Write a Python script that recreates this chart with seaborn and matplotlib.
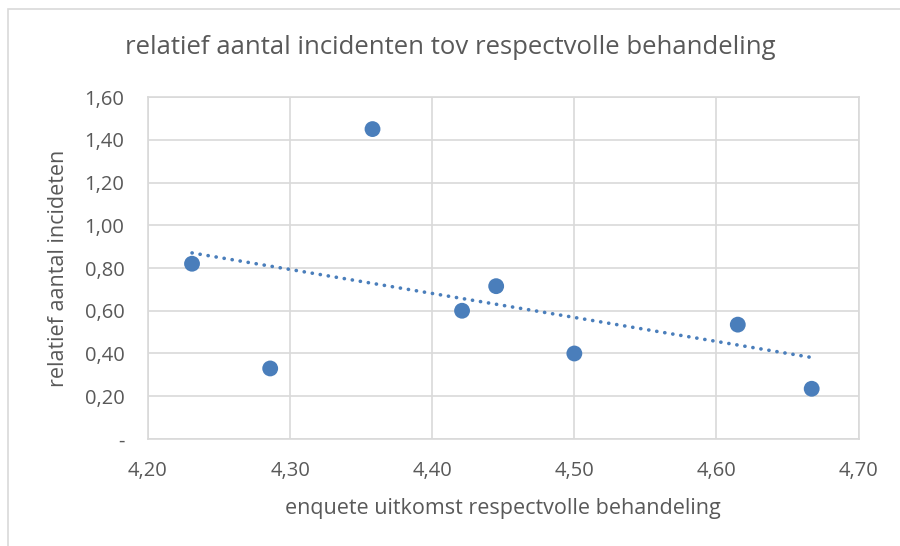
import seaborn as sns
import pandas as pd
import matplotlib.pyplot as plt
import matplotlib.ticker as mticker
from matplotlib.patches import Rectangle

# values
enquete = [4.231, 4.286, 4.358, 4.421, 4.445, 4.500, 4.615, 4.667]
incidenten = [0.82, 0.33, 1.45, 0.60, 0.715, 0.40, 0.535, 0.235]

title = 'relatief aantal incidenten tov respectvolle behandeling'
xlabel = 'enquete uitkomst respectvolle behandeling'
ylabel = 'relatief aantal incideten'

data = pd.DataFrame({'x': enquete, 'y': incidenten})

sns.set_style('white')
plt.rcParams['font.family'] = ['Open Sans', 'DejaVu Sans']

blue = '#4A7EBB'
grey_text = '#595959'
grid_col = '#D9D9D9'

fig, ax = plt.subplots(figsize=(9, 5.46), dpi=100)
fig.subplots_adjust(left=0.1644, right=0.954, top=0.8223, bottom=0.196)

# outer chart frame
fig.patches.append(Rectangle((8 / 900, -0.01), 1.02, 1 - 9 / 546 + 0.01,
                             transform=fig.transFigure, fill=False,
                             edgecolor=grid_col, linewidth=1.2))

sns.regplot(x='x', y='y', data=data, ax=ax, scatter=False, ci=None, truncate=True,
            line_kws=dict(color=blue, linewidth=2.6, linestyle=(0, (0.05, 2.2)),
                          dash_capstyle='round'))
sns.scatterplot(x='x', y='y', data=data, ax=ax, color=blue, s=130,
                edgecolor='none', zorder=3)

ax.set_xlim(4.20, 4.70)
ax.set_ylim(0, 1.60)
ax.set_xticks([4.20, 4.30, 4.40, 4.50, 4.60, 4.70])
ax.set_yticks([0, 0.2, 0.4, 0.6, 0.8, 1.0, 1.2, 1.4, 1.6])

def comma_fmt(v, pos):
    if abs(v) < 1e-9:
        return '-'
    return f'{v:.2f}'.replace('.', ',')

ax.xaxis.set_major_formatter(mticker.FuncFormatter(comma_fmt))
ax.yaxis.set_major_formatter(mticker.FuncFormatter(comma_fmt))

ax.grid(True, color=grid_col, linewidth=1.2)
ax.set_axisbelow(True)
for sp in ax.spines.values():
    sp.set_color(grid_col)
    sp.set_linewidth(1.2)
ax.tick_params(length=0, labelsize=14.5, colors=grey_text)
ax.tick_params(axis='y', pad=17)
ax.tick_params(axis='x', pad=16)

ax.set_xlabel(xlabel, fontsize=15.5, color=grey_text, labelpad=12)
ax.set_ylabel(ylabel, fontsize=15.5, color=grey_text, labelpad=11)
fig.suptitle(title, fontsize=18.5, color=grey_text, y=0.935)

plt.savefig('out.png', dpi=100)
